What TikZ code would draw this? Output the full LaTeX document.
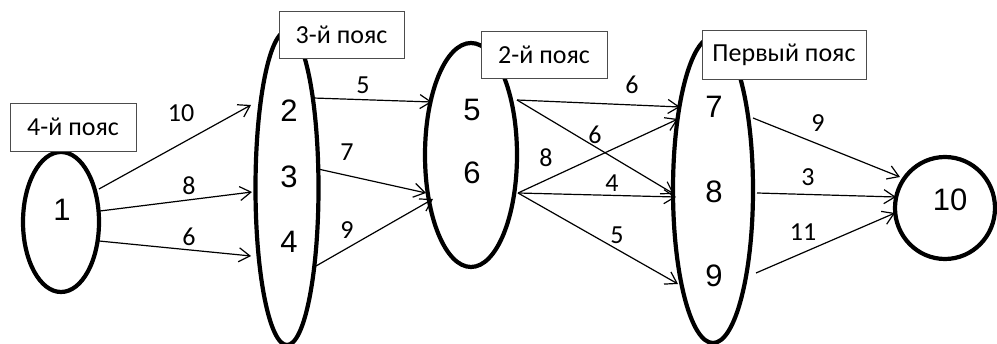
\documentclass[tikz,border=0pt]{standalone}
\usepackage{fontspec}
\setmainfont{Carlito}
\newfontfamily\numfont{Liberation Sans}
\usetikzlibrary{shapes.geometric,arrows.meta}
\begin{document}
\begin{tikzpicture}[x=1pt,y=-1pt,
  ell/.style={draw, ellipse, line width=4.2pt, inner sep=0pt},
  belt/.style={draw=black!70, line width=0.8pt, fill=white, inner sep=0pt, font=\fontsize{26}{30}\selectfont},
  num/.style={font=\numfont\fontsize{31}{36}\selectfont, inner sep=0pt},
  lab/.style={font=\fontsize{26}{30}\selectfont, inner sep=0pt},
  arr/.style={line width=1.2pt, -{Straight Barb[length=11pt,width=14pt]}},
]
\useasboundingbox (0,0) rectangle (997,344);

% ellipses
\node[ell, minimum width=76pt, minimum height=140pt] (E1) at (61,222) {};
\node[ell, minimum width=63pt, minimum height=314pt] (E2) at (287,188) {};
\node[ell, minimum width=92pt, minimum height=224pt] (E3) at (471,155) {};
\node[ell, minimum width=80pt, minimum height=306pt] (E4) at (713,190) {};
\node[ell, minimum width=100pt, minimum height=102pt] (E5) at (945,208) {};

% numbers
\node[num] (n1) at (62,210) {1};
\node[num] (n2) at (289,111) {2};
\node[num] (n3) at (289,177) {3};
\node[num] (n4) at (289,242) {4};
\node[num] (n5) at (472,110) {5};
\node[num] (n6) at (472,173) {6};
\node[num] (n7) at (714,107) {7};
\node[num] (n8) at (714,192) {8};
\node[num] (n9) at (714,276) {9};
\node[num] (n10) at (950,200) {10};

% connector end points
\coordinate (s1a) at (99,189);  \coordinate (t2) at (251,105);
\coordinate (s1b) at (100,211); \coordinate (t3) at (252,192);
\coordinate (s1c) at (99,241);  \coordinate (t4) at (251,256);
\coordinate (s2) at (313,98);   \coordinate (t5) at (432,102);
\coordinate (s3) at (318,169);  \coordinate (t6a) at (426,193);
\coordinate (s4) at (316,266);  \coordinate (t6b) at (433,199);
\coordinate (s5) at (517,100);
\coordinate (s6) at (518,193);
\coordinate (t7a) at (680,107); \coordinate (t7b) at (678,119);
\coordinate (t8a) at (674,194); \coordinate (t8b) at (676,197);
\coordinate (t9) at (678,284);
\coordinate (s7) at (753,118);  \coordinate (t10a) at (900,177);
\coordinate (s8) at (757,193);  \coordinate (t10b) at (896,197);
\coordinate (s9) at (756,273);  \coordinate (t10c) at (895,213);

% connectors
\draw[arr] (s1a) -- (t2);
\draw[arr] (s1b) -- (t3);
\draw[arr] (s1c) -- (t4);
\draw[arr] (s2) -- (t5);
\draw[arr] (s3) -- (t6a);
\draw[arr] (s4) -- (t6b);
\draw[arr] (s5) -- (t7a);
\draw[arr] (s5) -- (t8a);
\draw[arr] (s6) -- (t7b);
\draw[arr] (s6) -- (t8b);
\draw[arr] (s6) -- (t9);
\draw[arr] (s7) -- (t10a);
\draw[arr] (s8) -- (t10b);
\draw[arr] (s9) -- (t10c);

% connector labels
\node[lab] (l12) at (181,113) {10};
\node[lab] (l13) at (189,186) {8};
\node[lab] (l14) at (189,237) {6};
\node[lab] (l25) at (363,85) {5};
\node[lab] (l36) at (347,152) {7};
\node[lab] (l46) at (347,230) {9};
\node[lab] (l57) at (632,85) {6};
\node[lab] (l58) at (595,135) {6};
\node[lab] (l67) at (546,158) {8};
\node[lab] (l68) at (612,183) {4};
\node[lab] (l69) at (617,235) {5};
\node[lab] (l710) at (818,123) {9};
\node[lab] (l810) at (808,177) {3};
\node[lab] (l910) at (803,232) {11};

% belt boxes
\node[belt, minimum width=126pt, minimum height=48pt] (b4) at (73,127) {4-й пояс};
\node[belt, minimum width=125pt, minimum height=47pt] (b3) at (341.5,34.5) {3-й пояс};
\node[belt, minimum width=126pt, minimum height=47pt] (b2) at (544,54.5) {2-й пояс};
\node[belt, minimum width=164pt, minimum height=49pt] (b1) at (784,54.5) {Первый пояс};
\end{tikzpicture}
\end{document}
